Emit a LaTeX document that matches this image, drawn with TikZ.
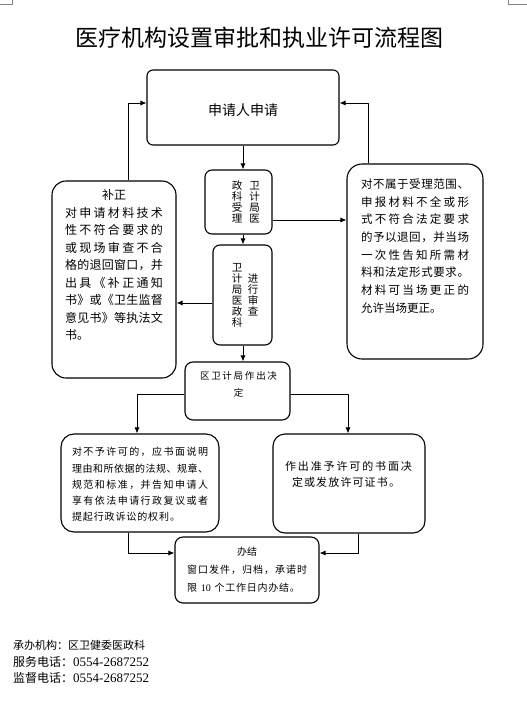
\documentclass[tikz,border=0pt]{standalone}
\usepackage{fontspec}
\setmainfont{Noto Sans CJK SC}
\newfontfamily\tms{Liberation Serif}
\usetikzlibrary{arrows.meta}
\lineskiplimit=-100pt
\makeatletter
\newcommand\spread[2]{\hbox to #1{\let\sepx\relax\@tfor\chx:=#2\do{\sepx\chx\let\sepx\hfil}}}
\makeatother
\newcommand\fs[2]{\fontsize{#1pt}{#2pt}\selectfont}
\begin{document}
\begin{tikzpicture}[x=1pt,y=-1pt,line join=round,
  rbox/.style={draw, line width=1.1pt, rounded corners=#1, inner sep=0pt},
  conn/.style={line width=0.8pt, -{Latex[length=6pt,width=5pt]}},
  txt/.style={inner sep=0pt, align=left},
  vtxt/.style={inner sep=0pt, align=center, font=\fs{10.5}{11}},
  crop/.style={draw=gray, line width=0.6pt}]
\useasboundingbox (0,0) rectangle (527,720);
% crop marks
\draw[crop] (12,0) -- (12,4) -- (0,4);
\draw[crop] (508,0) -- (508,4) -- (527,4);
% title
\node[inner sep=0pt, font=\fs{23}{23}] (title) at (259,38) {医疗机构设置审批和执业许可流程图};
% boxes
\node[rbox=6pt, minimum width=192pt, minimum height=75pt] (apply) at (243,107.5) {};
\node[rbox=7pt, minimum width=67pt, minimum height=64pt] (accept) at (238.5,202) {};
\node[rbox=7pt, minimum width=59pt, minimum height=100pt] (review) at (242.5,295) {};
\node[rbox=14pt, minimum width=124pt, minimum height=197pt] (fix) at (114,279.5) {};
\node[rbox=15pt, minimum width=136pt, minimum height=195pt] (reject) at (415,261.5) {};
\node[rbox=8pt, minimum width=105pt, minimum height=58pt] (decide) at (237.5,391) {};
\node[rbox=13pt, minimum width=158pt, minimum height=98pt] (deny) at (140,483) {};
\node[rbox=12pt, minimum width=152pt, minimum height=99pt] (grant) at (349,483.5) {};
\node[rbox=8pt, minimum width=144pt, minimum height=66pt] (done) at (247,570) {};
% texts
\node[inner sep=0pt, font=\fs{14}{14}] (tapply) at (243,110) {申请人申请};
\node[vtxt] (tacc1) at (254.5,202) {卫\\计\\局\\医};
\node[vtxt] (tacc2) at (237,202) {政\\科\\受\\理};
\node[vtxt] (trev1) at (253,295) {进\\行\\审\\查};
\node[vtxt] (trev2) at (237,295) {卫\\计\\局\\医\\政\\科};
\node[txt, font=\fs{12}{17.5}] (tfix) at (114,265) {%
\hbox to 98pt{\hfil 补正\hfil}\\
\spread{98pt}{对申请材料技术}\\
\spread{98pt}{性不符合要求的}\\
\spread{98pt}{或现场审查不合}\\
\spread{98pt}{格的退回窗口，并}\\
\spread{98pt}{出具《补正通知}\\
\spread{98pt}{书》或《卫生监督}\\
\spread{98pt}{意见书》等执法文}\\
\hbox to 98pt{书。\hfil}};
\node[txt, font=\fs{11.5}{17.7}] (treject) at (415,246) {%
\spread{108pt}{对不属于受理范围、}\\
\spread{108pt}{申报材料不全或形}\\
\spread{108pt}{式不符合法定要求}\\
\spread{108pt}{的予以退回，并当场}\\
\spread{108pt}{一次性告知所需材}\\
\spread{108pt}{料和法定形式要求。}\\
\spread{108pt}{材料可当场更正的}\\
\hbox to 108pt{允许当场更正。\hfil}};
\node[inner sep=0pt, align=center, font=\fs{9.5}{17}] (tdecide) at (238.5,384.5) {%
\spread{77pt}{区卫计局作出决}\\定};
\node[txt, font=\fs{10}{16.25}] (tdeny) at (140,484.5) {%
\spread{136pt}{对不予许可的，应书面说明}\\
\spread{136pt}{理由和所依据的法规、规章、}\\
\spread{136pt}{规范和标准，并告知申请人}\\
\spread{136pt}{享有依法申请行政复议或者}\\
\hbox to 136pt{\spread{108pt}{提起行政诉讼的权利。}\hfil}};
\node[txt, font=\fs{11}{15.5}] (tgrant) at (348.5,474.5) {%
\spread{127pt}{作出准予许可的书面决}\\
\hbox to 127pt{\kern7pt\spread{108pt}{定或发放许可证书。}\hfil}};
\node[txt, font=\fs{10}{18}] (tdone) at (247,570) {%
\hbox to 120pt{\hfil 办结\hfil}\\
\spread{120pt}{窗口发件，归档，承诺时}\\
\hbox to 120pt{\hbox to 113pt{限\hskip 3pt plus 1fil{\tms 10}\hskip 3pt plus 1fil 个\hfil 工\hfil 作\hfil 日\hfil 内\hfil 办\hfil 结\hfil 。}\hfil}};
% footer
\node[inner sep=0pt, anchor=west, font=\fs{11}{11}] (f1) at (13,645) {承办机构：区卫健委医政科};
\node[inner sep=0pt, anchor=west, font=\fs{12}{12}] (f2) at (13,662) {服务电话：{\fontsize{13pt}{13pt}\tms 0554-2687252}};
\node[inner sep=0pt, anchor=west, font=\fs{12}{12}] (f3) at (13,677.5) {监督电话：{\fontsize{13pt}{13pt}\tms 0554-2687252}};
% helper coordinates
\coordinate (xm) at (243,0);
\coordinate (p3) at (0,220);
\coordinate (p4) at (0,303);
\coordinate (p5) at (128,103);
\coordinate (p6) at (368,103);
\coordinate (p8) at (137,394);
\coordinate (p9) at (348,394);
\coordinate (p10) at (128,553);
\coordinate (p11) at (358,553);
% connectors
\draw[conn] (apply.south) -- (xm |- accept.north);
\draw[conn] (xm |- accept.south) -- (xm |- review.north);
\draw[conn] (xm |- review.south) -- (xm |- decide.north);
\draw[conn] (accept.east |- p3) -- (reject.west |- p3);
\draw[conn] (review.west |- p4) -- (fix.east |- p4);
\draw[conn] (fix.north -| p5) -- (p5) -- (p5 -| apply.west);
\draw[conn] (reject.north -| p6) -- (p6) -- (p6 -| apply.east);
\draw[conn] (decide.west |- p8) -- (p8) -- (p8 |- deny.north);
\draw[conn] (decide.east |- p9) -- (p9) -- (p9 |- grant.north);
\draw[conn] (deny.south -| p10) -- (p10) -- (p10 -| done.west);
\draw[conn] (grant.south -| p11) -- (p11) -- (p11 -| done.east);
\end{tikzpicture}
\end{document}
